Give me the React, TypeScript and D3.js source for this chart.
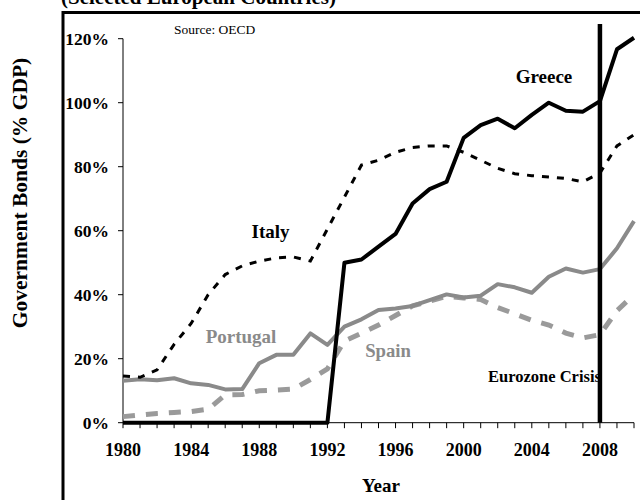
import React from "react";
import * as d3 from "d3";

const years = [1980,1981,1982,1983,1984,1985,1986,1987,1988,1989,1990,1991,1992,1993,1994,1995,1996,1997,1998,1999,2000,2001,2002,2003,2004,2005,2006,2007,2008,2009,2010];
const greece = [0,0,0,0,0,0,0,0,0,0,0,0,0,50,51,55,59,68.5,73,75.3,89,93,95,92,96.2,100,97.5,97.2,100.5,116.7,120.3];
const italy = [14.6,14.2,16.5,24.5,31,40,46.3,49,50.5,51.5,51.8,50.5,60.5,70.5,80.5,82,84.5,86,86.5,86.5,84.5,82,79.5,77.8,77.2,76.8,76.3,75.3,78,86.5,90];
const portugal = [13.1,13.6,13.3,13.9,12.3,11.8,10.4,10.5,18.6,21.2,21.2,27.9,24.3,30,32.3,35.2,35.7,36.5,38.3,40.1,39.1,39.7,43.3,42.3,40.6,45.6,48.2,46.9,48,54.5,63];
const spain = [1.9,2.4,2.9,3.2,3.5,4.2,8.7,8.8,10,10.2,10.5,13.5,16.8,25.5,28,30.5,33.5,36.5,38,39.5,39,38.5,36,34,32,30.5,28,26.5,27.5,35,40];
const yTicks = [0,20,40,60,80,100,120];
const xLabelYears = [1980,1984,1988,1992,1996,2000,2004,2008];
const crisisYear = 2008;

const FONT = "'Liberation Serif', 'Times New Roman', serif";

export default function App() {
  const x = d3.scaleLinear().domain([1980, 2010]).range([123, 634]);
  const y = d3.scaleLinear().domain([0, 120]).range([422.7, 38.7]);
  const line = (vals: number[]) =>
    d3.line<number>().x((_, i) => x(years[i])).y((v) => y(v))(vals) || "";

  return (
    <svg width={640} height={500} style={{ position: "absolute", left: 0, top: 0, background: "#fff" }} fontFamily={FONT}>
      <rect x={0} y={0} width={640} height={500} fill="#fff" />
      <text x={61} y={4} fontSize={21} fontWeight="bold">(Selected European Countries)</text>
      <rect x={63} y={12.5} width={700} height={600} fill="none" stroke="#000" strokeWidth={3} />
      <text transform="translate(27,193) rotate(-90)" textAnchor="middle" fontSize={21.5} fontWeight="bold">Government Bonds (% GDP)</text>
      <text x={174} y={34} fontSize={13.5}>Source: OECD</text>

      {/* y axis */}
      <line x1={x(1980)} x2={x(1980)} y1={y(120)} y2={y(0)} stroke="#000" strokeWidth={1} />
      {yTicks.map((t) => (
        <g key={t}>
          <line x1={x(1980) - 5} x2={x(1980)} y1={y(t)} y2={y(t)} stroke="#000" strokeWidth={1} />
          <text x={109} y={y(t)} dy="0.35em" textAnchor="end" fontSize={17.5} fontWeight="bold">{t}%</text>
        </g>
      ))}
      {/* x axis */}
      <line x1={x(1980)} x2={x(2010)} y1={y(0)} y2={y(0)} stroke="#000" strokeWidth={1} />
      {years.map((yr) => (
        <line key={yr} x1={x(yr)} x2={x(yr)} y1={y(0)} y2={y(0) + 5.5} stroke="#000" strokeWidth={1} />
      ))}
      {xLabelYears.map((yr) => (
        <text key={yr} x={x(yr)} y={456} textAnchor="middle" fontSize={18} fontWeight="bold">{yr}</text>
      ))}
      <text x={381} y={492} textAnchor="middle" fontSize={19} fontWeight="bold">Year</text>

      {/* series */}
      <path d={line(spain)} fill="none" stroke="#9a9a9a" strokeWidth={5} strokeDasharray="12,11" />
      <path d={line(portugal)} fill="none" stroke="#8a8a8a" strokeWidth={4} strokeLinejoin="round" />
      <path d={line(italy)} fill="none" stroke="#000" strokeWidth={3} strokeDasharray="7,8" />
      <path d={line(greece)} fill="none" stroke="#000" strokeWidth={4} strokeLinejoin="round" />

      {/* labels */}
      <text x={544} y={83} textAnchor="middle" fontSize={19} fontWeight="bold">Greece</text>
      <text x={270.5} y={238} textAnchor="middle" fontSize={19} fontWeight="bold">Italy</text>
      <text x={241} y={343} textAnchor="middle" fontSize={19} fontWeight="bold" fill="#8a8a8a">Portugal</text>
      <text x={388} y={357} textAnchor="middle" fontSize={18.7} fontWeight="bold" fill="#8a8a8a">Spain</text>
      <text x={488} y={382} fontSize={16.5} fontWeight="bold">Eurozone Crisis</text>

      <line x1={x(crisisYear)} x2={x(crisisYear)} y1={24} y2={y(0)} stroke="#000" strokeWidth={4.5} />
    </svg>
  );
}
